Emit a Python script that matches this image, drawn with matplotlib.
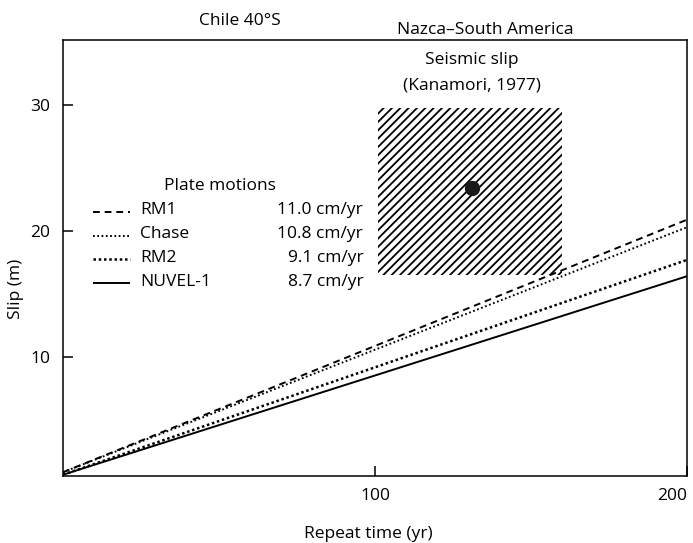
import numpy as np
import matplotlib
matplotlib.use("Agg")
import matplotlib.pyplot as plt

# plate motion models: slip at 0 and 200 yr
models = ["RM1", "Chase", "RM2", "NUVEL-1"]
rates = ["11.0 cm/yr", "10.8 cm/yr", "9.1 cm/yr", "8.7 cm/yr"]
years = [0, 200]
slip_rm1 = [0.8, 20.9]
slip_chase = [0.8, 20.3]
slip_rm2 = [0.6, 17.7]
slip_nuvel = [0.6, 16.4]

# seismic slip box (Kanamori, 1977)
box_years = [101, 160]
box_slip = [16.5, 29.8]
quake_year = 131
quake_slip = 23.4

plt.rcParams['font.family'] = ['Open Sans', 'DejaVu Sans']
plt.rcParams['font.size'] = 12.5
plt.rcParams['hatch.linewidth'] = 1.3

dpi = 100
fig = plt.figure(figsize=(693 / dpi, 543 / dpi), dpi=dpi)
ax = fig.add_axes([63 / 693, 1 - 476 / 543, 624 / 693, 436 / 543])

styles = [
    dict(ls=(0, (3.5, 2.5)), lw=1.4),
    dict(ls=(0, (0.9, 1.3)), lw=1.4),
    dict(ls=(0, (1.0, 1.1)), lw=1.8),
    dict(ls='-', lw=1.4),
]
series = [slip_rm1, slip_chase, slip_rm2, slip_nuvel]
for s, st in zip(series, styles):
    ax.plot(years, s, color='black', solid_capstyle='butt', dash_capstyle='butt', **st)

ax.fill_between(box_years, box_slip[0], box_slip[1], facecolor='none',
                edgecolor='black', hatch='////', linewidth=0)
ax.plot([quake_year], [quake_slip], 'o', color='#1a1a1a', markersize=10)

ax.text(0.655, 0.955, "Seismic slip", transform=ax.transAxes, ha='center', va='center')
ax.text(0.655, 0.895, "(Kanamori, 1977)", transform=ax.transAxes, ha='center', va='center')

# legend drawn by hand, with rates in a second column
ax.text(0.252, 0.665, "Plate motions", transform=ax.transAxes, ha='center', va='center')
row_y = [0.606, 0.551, 0.497, 0.442]
for name, rate, st, yy in zip(models, rates, styles, row_y):
    ax.plot([0.048, 0.107], [yy, yy], transform=ax.transAxes, color='black',
            solid_capstyle='butt', dash_capstyle='butt', **st)
    ax.text(0.123, yy + 0.004, name, transform=ax.transAxes, ha='left', va='center')
    ax.text(0.481, yy + 0.004, rate, transform=ax.transAxes, ha='right', va='center')

ax.set_xlim(0, 200)
ax.set_ylim(0.5, 35.2)
ax.set_xticks([100, 200])
ax.set_yticks([10, 20, 30])
ax.tick_params(direction='in', length=7, width=1.1, pad=9, labelsize=12.5)
ax.get_xticklabels()[-1].set_horizontalalignment('right')
for sp in ax.spines.values():
    sp.set_linewidth(1.1)

ax.set_xlabel("Repeat time (yr)")
ax.xaxis.set_label_coords(0.49, -0.115)
ax.set_ylabel("Slip (m)")
ax.yaxis.set_label_coords(-0.062, 0.43)

fig.text(240 / 693, 1 - 21 / 543, "Chile 40°S", ha='center', va='center')
fig.text(485 / 693, 1 - 30 / 543, "Nazca–South America", ha='center', va='center')

fig.savefig("out.png", dpi=dpi)
